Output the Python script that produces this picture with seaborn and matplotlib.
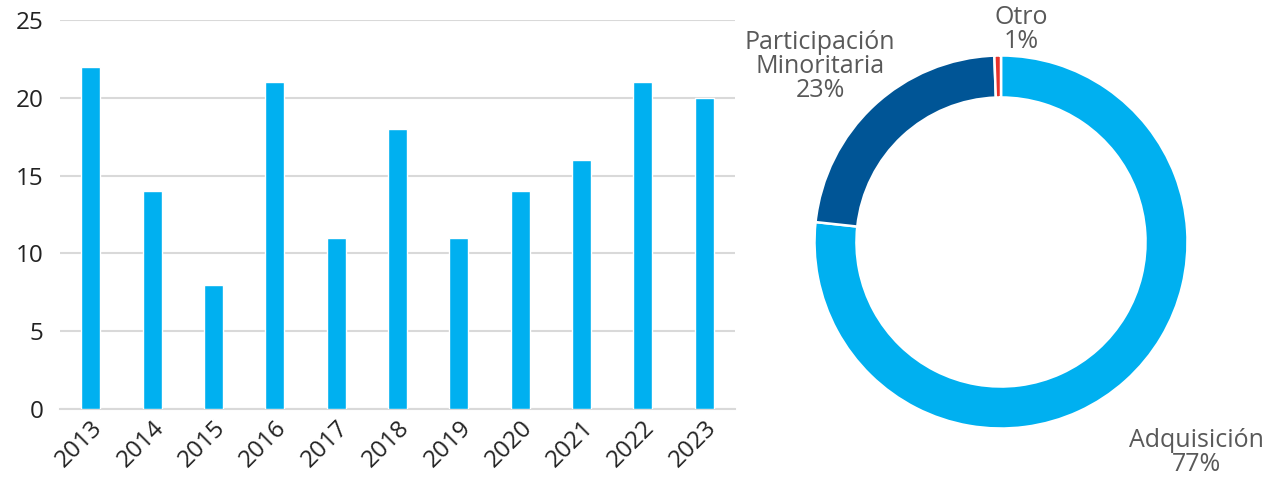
import matplotlib
matplotlib.use("Agg")
import matplotlib.pyplot as plt
import seaborn as sns
import pandas as pd

years = ["2013", "2014", "2015", "2016", "2017", "2018", "2019", "2020", "2021", "2022", "2023"]
deals = [22, 14, 8, 21, 11, 18, 11, 14, 16, 21, 20]

pie_labels = ["Adquisición", "Participación\nMinoritaria", "Otro"]
pie_counts = [135, 40, 1]

sns.set_theme(style="white")
plt.rcParams["font.family"] = ["Open Sans", "DejaVu Sans"]

W, H = 1280, 483
fig = plt.figure(figsize=(W / 100, H / 100), dpi=100)

# Bar chart
ax = fig.add_axes([60 / W, (H - 409) / H, 675 / W, 389 / H])
df = pd.DataFrame({"year": years, "deals": deals})
sns.barplot(data=df, x="year", y="deals", color="#00B0F0", width=0.31,
            saturation=1, ax=ax, zorder=3)
ax.set_xlim(-0.5, len(years) - 0.5)
ax.set_ylim(0, 25)
ax.set_yticks([0, 5, 10, 15, 20, 25])
ax.yaxis.grid(True, color="#D9D9D9", linewidth=1.5, zorder=0)
ax.set_axisbelow(True)
for s in ["left", "right", "top"]:
    ax.spines[s].set_visible(False)
ax.spines["bottom"].set_color("#D9D9D9")
ax.spines["bottom"].set_linewidth(1.5)
ax.set_xlabel("")
ax.set_ylabel("")
ax.tick_params(axis="y", length=0, pad=12, labelsize=17.5, labelcolor="#222222")
ax.tick_params(axis="x", length=0, pad=5, labelsize=17.5, labelcolor="#222222")
for lab in ax.get_xticklabels():
    lab.set_rotation(45)
    lab.set_ha("right")
    lab.set_va("top")
    lab.set_rotation_mode("anchor")

# Donut chart
r_px = 186.5
cx, cy = 1001, 242
pax = fig.add_axes([(cx - r_px) / W, (H - cy - r_px) / H, 2 * r_px / W, 2 * r_px / H])
colors = ["#00B0F0", "#005596", "#E8322B"]
wedges, _ = pax.pie(pie_counts, colors=colors, startangle=90, counterclock=False,
                    radius=1, wedgeprops=dict(width=0.225, edgecolor="white", linewidth=1.8))
pax.set_xlim(-1, 1)
pax.set_ylim(-1, 1)
pax.set_aspect("equal")
total = sum(pie_counts)
pcts = [round(c / total * 100) for c in pie_counts]
label_pos = [(1.05, -1.128), (-0.97, 0.943), (0.11, 1.14)]
for name, p, (x, y) in zip(pie_labels, pcts, label_pos):
    pax.text(x, y, f"{name}\n{p}%", ha="center", va="center", fontsize=18,
             color="#595959", linespacing=0.95, clip_on=False)

fig.savefig("out.png", dpi=100)
